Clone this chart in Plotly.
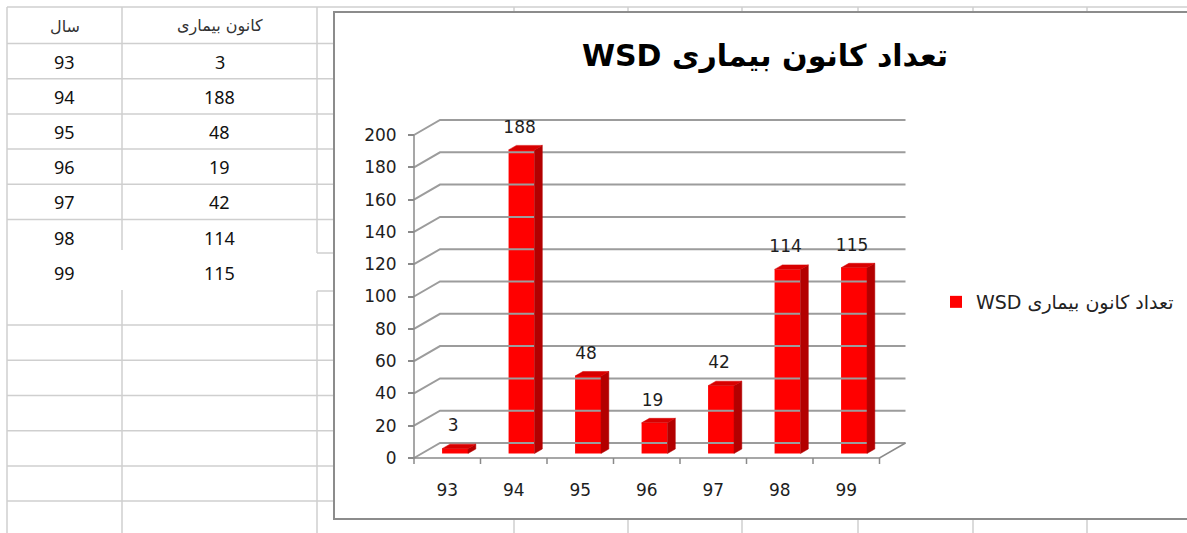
import plotly.graph_objects as go

# ---- data -------------------------------------------------------------
years = ["93", "94", "95", "96", "97", "98", "99"]
cases = [3, 188, 48, 19, 42, 114, 115]
y_ticks = [0, 20, 40, 60, 80, 100, 120, 140, 160, 180, 200]
col_year = "سال"
col_cases = "کانون بیماری"
series_name = "تعداد کانون بیماری WSD"

# ---- page geometry (pixels) ---------------------------------------------
W, H = 1187, 533
X_LEFT, CAT_PX = 414.0, 66.5          # front-left corner of the floor, px per category
Y_ZERO, VAL_PX = 458.0, 1.615         # y pixel of value 0, px per unit
DEPTH_PX = (26.0, 15.0)               # 3-D depth offset of the back wall

x_min = (0 - X_LEFT) / CAT_PX - 0.5
x_max = (W - X_LEFT) / CAT_PX - 0.5
y_max = Y_ZERO / VAL_PX
y_min = -(H - Y_ZERO) / VAL_PX

DX = DEPTH_PX[0] / CAT_PX
DY = DEPTH_PX[1] / VAL_PX
F = 0.30       # depth position of a bar's front face
BD = 0.30      # bar depth (fraction of the wall depth)
BW = 0.39      # bar front width in category units
n = len(years)
idx = list(range(n))

RTL = lambda s: "\u202b" + s + "\u202c"
FONT = "DejaVu Sans"
GRID = "#9c9c9c"
AXIS = "#8a8a8a"


def px_x(x):
    return x / W


def px_y(y):
    return 1 - y / H


fig = go.Figure()

# back wall / side wall gridlines
gx, gy = [], []
for t in y_ticks:
    gx += [-0.5, -0.5 + DX, n - 0.5 + DX, None]
    gy += [t, t + DY, t + DY, None]
fig.add_trace(go.Scatter(x=gx, y=gy, mode="lines", line=dict(color=GRID, width=2),
                         hoverinfo="skip", showlegend=False))

# floor front edge, right edge and category boundary ticks
fx = [-0.5, n - 0.5, n - 0.5 + DX, None]
fy = [0, 0, DY, None]
tick_len = 6 / VAL_PX
for b in range(n + 1):
    fx += [b - 0.5, b - 0.5, None]
    fy += [0, -tick_len, None]
fig.add_trace(go.Scatter(x=fx, y=fy, mode="lines", line=dict(color=AXIS, width=1.5),
                         hoverinfo="skip", showlegend=False))

# front vertical axis line
fig.add_trace(go.Scatter(x=[-0.5, -0.5], y=[0, y_ticks[-1]], mode="lines",
                         line=dict(color=AXIS, width=1.5), hoverinfo="skip", showlegend=False))

# bar side and top faces
sx, sy, tx, ty = [], [], [], []
for i, v in zip(idx, cases):
    xl = i + F * DX - BW / 2
    xr = i + F * DX + BW / 2
    y0 = F * DY
    y1 = (F + BD) * DY
    sx += [xr, xr + BD * DX, xr + BD * DX, xr, xr, None]
    sy += [y0, y1, v + y1, v + y0, y0, None]
    tx += [xl, xr, xr + BD * DX, xl + BD * DX, xl, None]
    ty += [v + y0, v + y0, v + y1, v + y1, v + y0, None]
fig.add_trace(go.Scatter(x=sx, y=sy, mode="lines", fill="toself", fillcolor="#b30000",
                         line=dict(color="#b30000", width=0.5), hoverinfo="skip", showlegend=False))
fig.add_trace(go.Scatter(x=tx, y=ty, mode="lines", fill="toself", fillcolor="#d80000",
                         line=dict(color="#d80000", width=0.5), hoverinfo="skip", showlegend=False))

# value labels above the bars
fig.add_trace(go.Scatter(
    x=[i + F * DX - 0.03 for i in idx], y=[v + (F + BD) * DY for v in cases],
    mode="markers+text", text=[str(v) for v in cases], textposition="top center",
    marker=dict(size=12, opacity=0), textfont=dict(family=FONT, size=17, color="#1e1e1e"),
    hoverinfo="skip", showlegend=False))

# bar front faces
fig.add_trace(go.Bar(
    x=[i + F * DX for i in idx], y=cases, base=F * DY, width=BW,
    marker=dict(color="#ff0000", line=dict(width=0)),
    name=RTL(series_name), showlegend=True))

# ---- spreadsheet background --------------------------------------------
shapes = []
line_c = "#cfcfcf"


def hline(y, x0, x1, c=line_c, w=1.5):
    shapes.append(dict(type="line", xref="paper", yref="paper", layer="below",
                       x0=px_x(x0), x1=px_x(x1), y0=px_y(y), y1=px_y(y),
                       line=dict(color=c, width=w)))


def vline(x, y0, y1, c=line_c, w=1.5):
    shapes.append(dict(type="line", xref="paper", yref="paper", layer="below",
                       x0=px_x(x), x1=px_x(x), y0=px_y(y0), y1=px_y(y1),
                       line=dict(color=c, width=w)))


hline(7, 7, W)
row_h = 35.2
for k in range(14):
    y = 43.5 + row_h * k
    if k in (6, 7):
        continue
    hline(y, 7, W)
hline(253, 317, 334)
hline(291, 317, 334)
vline(7, 7, H)
vline(122, 7, 250)
vline(122, 290, H)
vline(317, 7, 253)
vline(317, 291, H)
for x in (514, 628, 742, 858, 973, 1087):
    vline(x, 7, H)

# chart frame
shapes.append(dict(type="rect", xref="paper", yref="paper", layer="below",
                   x0=px_x(334), x1=px_x(W + 10), y0=px_y(519), y1=px_y(12),
                   fillcolor="white", line=dict(color="#8c8c8c", width=2)))

# table text
ann = []


def cell(x, y, text, family, size, color):
    ann.append(dict(x=px_x(x), y=px_y(y), xref="paper", yref="paper", text=text,
                    xanchor="center", yanchor="middle", showarrow=False,
                    font=dict(family=family, size=size, color=color)))


cell(64.5, 26, col_year, FONT, 16, "#333")
cell(219.5, 26, col_cases, FONT, 16, "#333")
for k, (yr, v) in enumerate(zip(years, cases)):
    yc = 61.5 + row_h * k
    cell(64.5, yc, yr, "Noto Sans", 18, "#111")
    cell(219.5, yc, str(v), "Noto Sans", 18, "#111")

fig.update_layout(
    width=W, height=H,
    margin=dict(l=0, r=0, t=0, b=0),
    paper_bgcolor="white", plot_bgcolor="rgba(0,0,0,0)",
    shapes=shapes, annotations=ann,
    title=dict(text="<b>" + RTL(series_name) + "</b>", x=px_x(765), xanchor="center",
               y=px_y(55), yanchor="middle", font=dict(family=FONT, size=30, color="#000")),
    xaxis=dict(range=[x_min, x_max], domain=[0, 1], anchor="free", position=(H - Y_ZERO) / H,
               tickvals=idx, ticktext=years, ticks="", showline=False, showgrid=False,
               zeroline=False, ticklabelstandoff=20,
               tickfont=dict(family=FONT, size=17, color="#1e1e1e")),
    yaxis=dict(range=[y_min, y_max], domain=[0, 1], anchor="free", position=X_LEFT / W,
               tickvals=y_ticks, ticks="outside", ticklen=6, tickcolor=AXIS, tickwidth=1.5,
               showline=False, showgrid=False, zeroline=False, ticklabelstandoff=8,
               tickfont=dict(family=FONT, size=17, color="#1e1e1e")),
    legend=dict(x=px_x(936), xanchor="left", y=px_y(302), yanchor="middle",
                bgcolor="rgba(0,0,0,0)", font=dict(family=FONT, size=19, color="#222")),
    showlegend=True,
)

fig.write_html("out.html")
